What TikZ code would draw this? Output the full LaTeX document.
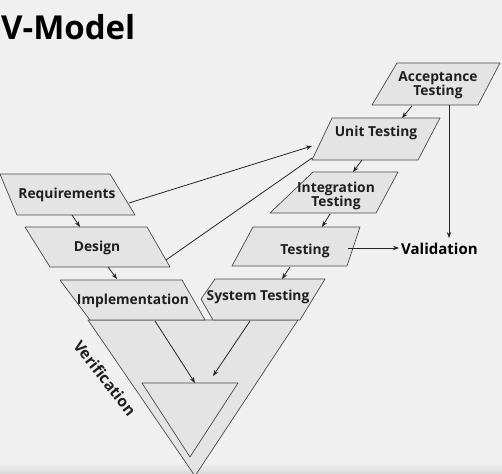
\documentclass[tikz,border=0pt]{standalone}
\usepackage{fontspec}
\setmainfont{Open Sans}
\usetikzlibrary{arrows.meta}
\definecolor{bg}{HTML}{F0F0F0}
\definecolor{boxfill}{HTML}{E4E4E4}
\definecolor{edge}{HTML}{4A4A4A}
\begin{document}
\begin{tikzpicture}[x=1pt,y=-1pt,
  box/.style={draw=edge, fill=boxfill, line width=0.7pt, line join=round},
  lbl/.style={font=\bfseries\fontsize{13.8}{15.5}\selectfont, inner sep=0pt, text=black!88, align=center},
  arr/.style={draw=black!85, line width=0.8pt, -{Stealth[length=6pt,width=4.5pt]}},
  plain/.style={draw=black!85, line width=0.8pt}]
\fill[bg] (0,0) rectangle (502,473);
\useasboundingbox (0,0) rectangle (502,473);
% bottom strip
\fill[top color=bg, bottom color=black!14] (0,463) rectangle (502,473);

% title
\node[font=\bfseries\fontsize{33}{36}\selectfont, anchor=base west, inner sep=0pt] (title) at (1,40) {V-Model};

% V triangles
\draw[box] (88,320) coordinate (vL) -- (298,320) coordinate (vR) -- (195,476) coordinate (vB) -- cycle;
\draw[box] (142,383) coordinate (iL) -- (238,383) coordinate (iR) -- (190,457) coordinate (iB) -- cycle;
\coordinate (inA) at (195,383);
\coordinate (inB) at (213,376);

% left branch boxes
\draw[box] (0,174) -- (110,174) -- (135,215) -- (17,215) -- cycle;
\draw[box] (25,227) -- (147,227) -- (170,267) -- (50,267) -- cycle;
\draw[box] (60,280) -- (182,280) -- (205,320) -- (90,320) -- cycle;

% right branch boxes
\draw[box] (397,63) -- (500,63) -- (478,105) -- (372,105) -- cycle;
\draw[box] (332,118) -- (440,118) -- (418,160) -- (312,160) -- cycle;
\draw[box] (313,172) -- (398,172) -- (376,213) -- (270,213) -- cycle;
\draw[box] (253,227) -- (360,227) -- (347,266) -- (232,266) -- cycle;
\draw[box] (215,279) -- (325,279) -- (300,320) -- (213,320) -- (201,299) -- cycle;

% labels
\node[lbl] (req) at (67,195) {Requirements};
\node[lbl] (des) at (97,248) {Design};
\node[lbl] (imp) at (133,301) {Implementation};
\node[lbl] (acc) at (438,85) {Acceptance\\[-1pt]Testing};
\node[lbl] (unit) at (376,133) {Unit Testing};
\node[lbl] (integ) at (336,196) {Integration\\[-1pt]Testing};
\node[lbl] (test) at (305,251) {Testing};
\node[lbl] (sys) at (258,297) {System Testing};
\node[font=\bfseries\fontsize{15}{18}\selectfont, inner sep=0pt, anchor=west] (val) at (401,249) {Validation};
\node[lbl, font=\bfseries\fontsize{15.5}{17}\selectfont, rotate=-52] (verif) at (105,378) {Verification};

% connector end points
\coordinate (reqB) at (72,215);  \coordinate (desT) at (80,227);
\coordinate (desB) at (108,267); \coordinate (impT) at (117,279);
\coordinate (accB) at (412,106); \coordinate (unitT) at (402,118);
\coordinate (unitB) at (362,160); \coordinate (integT) at (353,172);
\coordinate (integB) at (330,214); \coordinate (testT) at (322,227);
\coordinate (testB) at (290,267); \coordinate (sysT) at (282,279);
\coordinate (reqR) at (129,203); \coordinate (unitL) at (312,146);
\coordinate (desR) at (166,260); \coordinate (unitBL) at (312,158);
\coordinate (impB) at (155,321); \coordinate (sysB) at (250,321);
\coordinate (accR) at (449,105); \coordinate (valT) at (449,238);
\coordinate (testR) at (348,248); \coordinate (valL) at (399,248);

\draw[arr] (reqB) -- (desT);
\draw[arr] (desB) -- (impT);
\draw[arr] (accB) -- (unitT);
\draw[arr] (unitB) -- (integT);
\draw[arr] (integB) -- (testT);
\draw[arr] (testB) -- (sysT);
\draw[arr] (reqR) -- (unitL);
\draw[plain] (desR) -- (unitBL);
\draw[arr] (impB) -- (inA);
\draw[arr] (sysB) -- (inB);
\draw[arr] (accR) -- (valT);
\draw[arr] (testR) -- (valL);
\end{tikzpicture}
\end{document}
